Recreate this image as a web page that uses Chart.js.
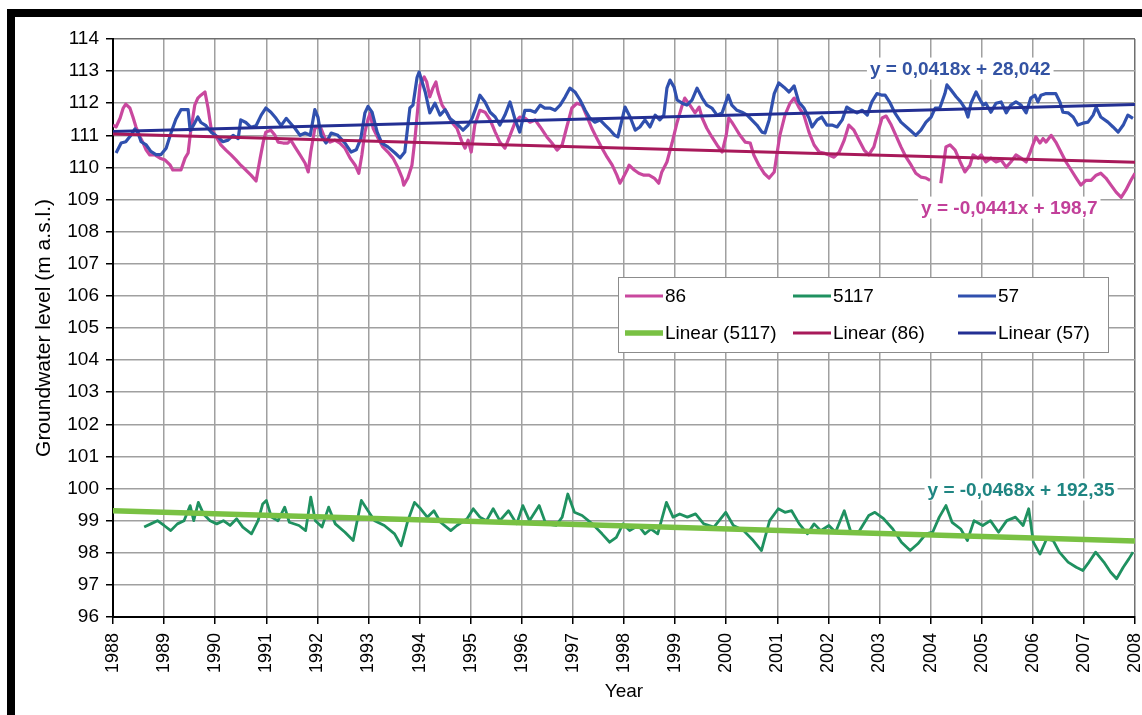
<!DOCTYPE html>
<html>
<head>
<meta charset="utf-8">
<title>Groundwater level</title>
<script src="https://cdn.jsdelivr.net/npm/chart.js@4.4.1/dist/chart.umd.min.js"></script>
<style>
  html, body { margin: 0; padding: 0; background: #fff; }
  #wrap { position: relative; width: 1142px; height: 715px; overflow: hidden; }
  #wrap canvas { position: absolute; left: 0; top: 0; }
  #frame { position: absolute; left: 7px; top: 9px; right: -20px; bottom: -20px;
           border-top: 8px solid #000; border-left: 8px solid #000; pointer-events: none; }
</style>
</head>
<body>
<div id="wrap">
  <canvas id="chart" width="1142" height="715"></canvas>
  <div id="frame"></div>
</div>
<script>
// --- DATA (decimal year, m a.s.l.) ---
const series57 = [
  [1988.06,110.45],[1988.16,110.76],[1988.25,110.8],[1988.35,111.0],[1988.43,111.2],[1988.49,111.07],[1988.55,110.8],[1988.65,110.7],[1988.74,110.5],[1988.84,110.4],[1988.94,110.4],
  [1989.04,110.6],[1989.14,111.1],[1989.23,111.5],[1989.33,111.8],[1989.47,111.8],[1989.51,111.15],[1989.57,111.3],[1989.66,111.57],[1989.72,111.4],[1989.82,111.3],[1989.92,111.1],
  [1990.05,110.95],[1990.15,110.8],[1990.25,110.85],[1990.35,111.0],[1990.45,110.9],[1990.50,111.48],[1990.60,111.4],[1990.70,111.25],[1990.80,111.3],[1990.90,111.63],[1990.99,111.85],
  [1991.09,111.72],[1991.19,111.53],[1991.29,111.3],[1991.39,111.53],[1991.46,111.4],[1991.56,111.22],[1991.66,111.0],[1991.76,111.07],[1991.86,111.0],[1991.95,111.8],
  [1992.01,111.57],[1992.07,111.0],[1992.17,110.76],[1992.27,111.07],[1992.40,111.0],[1992.54,110.76],[1992.66,110.48],[1992.76,110.55],[1992.85,110.9],[1992.93,111.7],[1992.99,111.9],
  [1993.07,111.72],[1993.17,111.1],[1993.26,110.76],[1993.38,110.64],[1993.52,110.45],[1993.62,110.3],[1993.71,110.48],[1993.81,111.85],[1993.87,111.94],[1993.95,112.8],[1993.99,112.97],
  [1994.05,112.66],[1994.11,112.35],[1994.20,111.7],[1994.30,112.0],[1994.40,111.63],[1994.50,111.8],[1994.59,111.53],[1994.69,111.41],[1994.79,111.26],[1994.85,111.16],[1994.95,111.32],
  [1995.03,111.54],[1995.12,111.94],[1995.18,112.25],[1995.28,112.04],[1995.38,111.72],[1995.48,111.57],[1995.57,111.32],[1995.67,111.63],[1995.77,112.04],[1995.87,111.48],[1995.96,111.1],
  [1996.06,111.78],[1996.16,111.78],[1996.26,111.72],[1996.36,111.94],[1996.45,111.85],[1996.55,111.85],[1996.65,111.78],[1996.75,111.94],[1996.85,112.2],[1996.94,112.47],
  [1997.04,112.35],[1997.14,112.1],[1997.24,111.78],[1997.33,111.54],[1997.43,111.41],[1997.53,111.48],[1997.63,111.32],[1997.73,111.16],[1997.82,111.0],[1997.88,110.95],[1997.96,111.48],
  [1998.02,111.88],[1998.12,111.57],[1998.22,111.16],[1998.31,111.26],[1998.41,111.48],[1998.51,111.26],[1998.61,111.63],[1998.70,111.48],[1998.78,111.63],[1998.84,112.47],[1998.90,112.72],[1998.98,112.5],
  [1999.04,112.1],[1999.14,112.0],[1999.23,111.94],[1999.33,112.1],[1999.43,112.47],[1999.53,112.16],[1999.62,111.94],[1999.72,111.85],[1999.82,111.63],[1999.92,111.7],
  [2000.04,112.25],[2000.11,111.94],[2000.21,111.78],[2000.31,111.72],[2000.41,111.63],[2000.50,111.48],[2000.60,111.32],[2000.70,111.1],[2000.76,111.07],[2000.84,111.48],[2000.94,112.3],
  [2001.03,112.63],[2001.13,112.5],[2001.23,112.35],[2001.33,112.54],[2001.42,112.04],[2001.52,111.85],[2001.62,111.54],[2001.68,111.26],[2001.78,111.48],[2001.87,111.57],[2001.97,111.32],
  [2002.07,111.32],[2002.17,111.26],[2002.27,111.48],[2002.36,111.88],[2002.46,111.78],[2002.56,111.7],[2002.66,111.78],[2002.76,111.63],[2002.85,112.04],[2002.95,112.3],
  [2003.05,112.25],[2003.11,112.25],[2003.21,112.0],[2003.30,111.7],[2003.42,111.41],[2003.60,111.16],[2003.71,111.0],[2003.81,111.16],[2003.91,111.41],
  [2004.01,111.57],[2004.09,111.85],[2004.18,111.85],[2004.28,112.3],[2004.32,112.57],[2004.40,112.41],[2004.50,112.2],[2004.59,112.04],[2004.67,111.85],[2004.73,111.57],[2004.79,112.0],[2004.89,112.35],[2004.97,112.1],
  [2005.03,111.94],[2005.08,112.0],[2005.18,111.72],[2005.28,112.0],[2005.38,112.04],[2005.48,111.7],[2005.57,111.94],[2005.67,112.04],[2005.77,111.94],[2005.87,111.7],[2005.96,112.16],
  [2006.04,112.25],[2006.10,112.04],[2006.16,112.25],[2006.26,112.3],[2006.36,112.3],[2006.45,112.3],[2006.53,112.04],[2006.59,111.72],[2006.69,111.7],[2006.79,111.57],[2006.88,111.32],[2006.98,111.38],
  [2007.08,111.41],[2007.18,111.63],[2007.24,111.88],[2007.33,111.57],[2007.47,111.41],[2007.57,111.26],[2007.67,111.1],[2007.77,111.32],[2007.86,111.63],[2007.96,111.53]
];

// null marks the gap in the record early in 2004
const series86 = [
  [1988.00,111.32],[1988.06,111.26],[1988.14,111.54],[1988.20,111.85],[1988.25,111.97],[1988.33,111.85],[1988.39,111.57],[1988.45,111.26],[1988.53,110.95],[1988.59,110.76],[1988.65,110.54],[1988.72,110.39],[1988.82,110.39],[1988.92,110.29],
  [1989.02,110.23],[1989.12,110.07],[1989.17,109.92],[1989.27,109.92],[1989.33,109.92],[1989.41,110.29],[1989.47,110.45],[1989.51,111.0],[1989.57,111.63],[1989.60,111.94],[1989.66,112.16],[1989.72,112.25],[1989.80,112.35],[1989.86,111.85],[1989.92,111.22],
  [1990.02,110.95],[1990.11,110.7],[1990.21,110.54],[1990.31,110.39],[1990.41,110.23],[1990.50,110.07],[1990.60,109.92],[1990.70,109.76],[1990.80,109.58],[1990.88,110.29],[1990.94,110.79],[1990.99,111.1],
  [1991.09,111.16],[1991.17,111.0],[1991.23,110.79],[1991.33,110.76],[1991.42,110.76],[1991.48,110.85],[1991.56,110.64],[1991.66,110.39],[1991.76,110.13],[1991.82,109.86],[1991.87,110.48],[1991.95,111.22],
  [1992.01,111.26],[1992.07,111.22],[1992.15,110.9],[1992.25,110.79],[1992.34,110.85],[1992.44,110.76],[1992.54,110.6],[1992.64,110.29],[1992.74,110.07],[1992.81,109.82],[1992.87,110.39],[1992.93,111.1],[1992.99,111.5],
  [1993.03,111.68],[1993.09,111.22],[1993.19,110.9],[1993.28,110.64],[1993.38,110.48],[1993.48,110.29],[1993.58,109.98],[1993.66,109.67],[1993.69,109.45],[1993.77,109.67],[1993.85,110.07],[1993.91,110.9],[1993.97,111.94],
  [1994.01,112.57],[1994.09,112.82],[1994.14,112.66],[1994.20,112.2],[1994.26,112.47],[1994.32,112.66],[1994.36,112.35],[1994.44,111.94],[1994.54,111.7],[1994.63,111.41],[1994.73,111.22],[1994.83,110.79],[1994.89,110.6],[1994.95,110.85],
  [1995.01,110.48],[1995.08,111.32],[1995.18,111.78],[1995.28,111.72],[1995.38,111.48],[1995.48,111.1],[1995.57,110.79],[1995.67,110.6],[1995.77,111.0],[1995.87,111.41],[1995.96,111.57],
  [1996.06,111.54],[1996.16,111.41],[1996.26,111.48],[1996.36,111.26],[1996.49,110.95],[1996.59,110.76],[1996.69,110.54],[1996.79,110.7],[1996.88,111.26],[1996.98,111.85],
  [1997.08,112.0],[1997.18,111.94],[1997.28,111.57],[1997.37,111.22],[1997.47,110.9],[1997.57,110.6],[1997.67,110.32],[1997.77,110.07],[1997.86,109.76],[1997.92,109.51],[1997.98,109.67],
  [1998.06,109.92],[1998.10,110.07],[1998.20,109.92],[1998.29,109.82],[1998.39,109.76],[1998.49,109.76],[1998.59,109.67],[1998.68,109.51],[1998.74,109.86],[1998.84,110.17],[1998.94,110.76],
  [1999.04,111.41],[1999.14,111.94],[1999.19,112.16],[1999.29,111.94],[1999.39,111.7],[1999.47,111.88],[1999.53,111.54],[1999.62,111.22],[1999.72,110.95],[1999.82,110.7],[1999.92,110.48],
  [2000.00,111.0],[2000.05,111.54],[2000.11,111.41],[2000.17,111.26],[2000.27,111.0],[2000.37,110.79],[2000.47,110.76],[2000.54,110.39],[2000.64,110.07],[2000.74,109.82],[2000.84,109.67],[2000.94,109.86],[2000.99,110.39],
  [2001.05,111.0],[2001.15,111.63],[2001.25,112.0],[2001.33,112.16],[2001.42,111.88],[2001.52,111.63],[2001.62,111.1],[2001.72,110.7],[2001.82,110.48],[2001.91,110.45],
  [2002.01,110.39],[2002.11,110.32],[2002.21,110.48],[2002.31,110.85],[2002.40,111.32],[2002.50,111.16],[2002.60,110.85],[2002.70,110.54],[2002.79,110.39],[2002.89,110.64],[2002.95,111.0],
  [2003.05,111.54],[2003.13,111.6],[2003.23,111.32],[2003.32,111.0],[2003.42,110.64],[2003.52,110.32],[2003.62,110.07],[2003.71,109.82],[2003.81,109.7],[2003.91,109.67],[2003.99,109.6],
  [2004.10,null],
  [2004.20,109.51],[2004.26,110.17],[2004.30,110.64],[2004.38,110.7],[2004.48,110.54],[2004.58,110.17],[2004.67,109.86],[2004.77,110.07],[2004.83,110.39],[2004.93,110.29],[2004.99,110.39],
  [2005.08,110.17],[2005.18,110.29],[2005.28,110.17],[2005.38,110.23],[2005.48,110.01],[2005.57,110.17],[2005.67,110.39],[2005.77,110.29],[2005.87,110.17],[2005.95,110.48],
  [2006.00,110.7],[2006.06,110.95],[2006.14,110.76],[2006.20,110.9],[2006.26,110.79],[2006.36,111.0],[2006.45,110.79],[2006.55,110.48],[2006.65,110.17],[2006.75,109.92],[2006.85,109.67],[2006.94,109.45],
  [2007.04,109.6],[2007.14,109.6],[2007.24,109.76],[2007.33,109.82],[2007.43,109.67],[2007.53,109.45],[2007.63,109.23],[2007.73,109.07],[2007.82,109.29],[2007.92,109.6],[2008.00,109.82]
];

const series5117 = [
  [1988.61,98.80],[1988.74,98.90],[1988.87,99.0],[1989.00,98.85],[1989.13,98.69],[1989.26,98.90],[1989.39,99.0],[1989.51,99.47],[1989.58,99.0],[1989.67,99.57],[1989.77,99.21],[1989.90,99.0],
  [1990.03,98.90],[1990.16,99.0],[1990.29,98.85],[1990.42,99.06],[1990.54,98.80],[1990.71,98.59],[1990.84,99.0],[1990.93,99.52],[1991.00,99.63],[1991.10,99.11],[1991.23,99.0],[1991.36,99.42],[1991.45,98.95],[1991.64,98.85],[1991.77,98.69],[1991.87,99.73],[1991.96,99.0],
  [1992.09,98.80],[1992.22,99.42],[1992.35,98.90],[1992.54,98.64],[1992.70,98.38],[1992.86,99.63],[1992.99,99.31],[1993.12,99.0],[1993.31,98.85],[1993.51,98.59],[1993.64,98.22],[1993.77,99.0],[1993.90,99.57],
  [1994.02,99.37],[1994.15,99.11],[1994.28,99.31],[1994.41,98.95],[1994.61,98.69],[1994.73,98.85],[1994.93,99.06],[1995.05,99.37],[1995.18,99.11],[1995.31,99.0],[1995.44,99.37],[1995.57,99.0],[1995.74,99.31],[1995.90,98.90],
  [1996.02,99.47],[1996.15,99.0],[1996.34,99.47],[1996.47,98.90],[1996.67,98.85],[1996.79,99.11],[1996.90,99.83],[1997.03,99.26],[1997.18,99.16],[1997.38,98.90],[1997.57,98.59],[1997.72,98.33],[1997.85,98.48],[1997.98,98.90],
  [1998.11,98.69],[1998.28,98.85],[1998.41,98.59],[1998.53,98.74],[1998.66,98.59],[1998.83,99.57],[1998.96,99.11],[1999.09,99.21],[1999.24,99.11],[1999.40,99.21],[1999.56,98.90],[1999.76,98.80],[1999.99,99.26],
  [2000.14,98.85],[2000.34,98.69],[2000.53,98.38],[2000.69,98.07],[2000.85,99.0],[2001.02,99.37],[2001.15,99.26],[2001.28,99.31],[2001.43,98.90],[2001.59,98.59],[2001.72,98.90],[2001.85,98.69],
  [2002.01,98.85],[2002.14,98.64],[2002.31,99.31],[2002.44,98.64],[2002.59,98.64],[2002.79,99.16],[2002.91,99.26],[2003.08,99.06],[2003.26,98.74],[2003.43,98.33],[2003.60,98.07],[2003.75,98.28],[2003.91,98.59],
  [2004.04,98.64],[2004.17,99.11],[2004.30,99.47],[2004.42,98.95],[2004.59,98.74],[2004.72,98.38],[2004.85,99.0],[2005.02,98.85],[2005.17,99.0],[2005.33,98.64],[2005.49,99.0],[2005.66,99.11],[2005.81,98.85],[2005.92,99.37],
  [2006.01,98.33],[2006.14,97.96],[2006.27,98.43],[2006.40,98.38],[2006.52,98.02],[2006.69,97.71],[2006.85,97.55],[2006.98,97.45],[2007.10,97.71],[2007.23,98.02],[2007.39,97.71],[2007.52,97.40],[2007.64,97.19],[2007.77,97.55],[2007.88,97.81],[2007.96,98.02]
];

// trend lines at the axis ends, from the fitted equations printed on the figure
const trendYears = [1988, 2008];
const trend57 = [111.12, 111.96];
const trend86 = [111.04, 110.16];
const trend5117 = [99.31, 98.37];

const yearTicks = { min: 1988, max: 2008 };
const levelTicks = { min: 96, max: 114 };

// --- COLOURS ---
const colors = {
  pink: '#c9489e',
  green: '#1f9160',
  blue: '#3050ae',
  trendGreen: '#79c143',
  trendPink: '#a8195a',
  trendBlue: '#232f93',
  eqBlue: '#3353a3',
  eqPink: '#c2409a',
  eqTeal: '#1f8582',
  grid: '#a0a0a0'
};
const fontFamily = '"Liberation Sans", Arial, sans-serif';

const toPoints = list => list.map(p => ({ x: p[0], y: p[1] }));
const trendPoints = vals => trendYears.map((yr, i) => ({ x: yr, y: vals[i] }));

// datasets listed in the legend's reading order; "order" sets what sits on top
const datasets = [
  { label: '86', data: toPoints(series86), borderColor: colors.pink, borderWidth: 3.2, order: 3 },
  { label: '5117', data: toPoints(series5117), borderColor: colors.green, borderWidth: 2.8, order: 3 },
  { label: '57', data: toPoints(series57), borderColor: colors.blue, borderWidth: 3.2, order: 2 },
  { label: 'Linear (5117)', data: trendPoints(trend5117), borderColor: colors.trendGreen, borderWidth: 5.5, order: 1 },
  { label: 'Linear (86)', data: trendPoints(trend86), borderColor: colors.trendPink, borderWidth: 3, order: 0 },
  { label: 'Linear (57)', data: trendPoints(trend57), borderColor: colors.trendBlue, borderWidth: 3, order: 0 }
];
datasets.forEach(ds => {
  ds.pointRadius = 0;
  ds.tension = 0;
  ds.fill = false;
  ds.spanGaps = false;
  ds.borderJoinStyle = 'round';
});

// --- EQUATION LABELS (placed in data coordinates) ---
const equations = [
  { text: 'y = 0,0418x + 28,042', color: colors.eqBlue, year: 2004.58, level: 113.08 },
  { text: 'y = -0,0441x + 198,7', color: colors.eqPink, year: 2005.54, level: 108.75 },
  { text: 'y = -0,0468x + 192,35', color: colors.eqTeal, year: 2005.77, level: 99.97 }
];

const equationPlugin = {
  id: 'equations',
  afterDraw(chart) {
    const { ctx, scales } = chart;
    ctx.save();
    ctx.font = 'bold 19px ' + fontFamily;
    ctx.textAlign = 'center';
    ctx.textBaseline = 'middle';
    equations.forEach(eq => {
      const x = scales.x.getPixelForValue(eq.year);
      const y = scales.y.getPixelForValue(eq.level);
      const w = ctx.measureText(eq.text).width;
      ctx.fillStyle = '#fff';
      ctx.fillRect(x - w / 2 - 3, y - 11, w + 6, 22);
      ctx.fillStyle = eq.color;
      ctx.fillText(eq.text, x, y + 1);
    });
    ctx.restore();
  }
};

// --- LEGEND: 3 columns x 2 rows inside a boxed area ---
const legendBox = { left: 618, top: 277, right: 1108, bottom: 352 };
const legendCols = [625, 793, 958];
const legendRows = [296, 333];

const legendPlugin = {
  id: 'gridLegend',
  afterDraw(chart) {
    const { ctx } = chart;
    ctx.save();
    ctx.fillStyle = '#fff';
    ctx.fillRect(legendBox.left, legendBox.top, legendBox.right - legendBox.left, legendBox.bottom - legendBox.top);
    ctx.strokeStyle = '#8c8c8c';
    ctx.lineWidth = 1;
    ctx.strokeRect(legendBox.left + 0.5, legendBox.top + 0.5, legendBox.right - legendBox.left, legendBox.bottom - legendBox.top);
    ctx.font = '19px ' + fontFamily;
    ctx.textBaseline = 'middle';
    ctx.textAlign = 'left';
    chart.data.datasets.forEach((ds, i) => {
      const x = legendCols[i % 3];
      const y = legendRows[Math.floor(i / 3)];
      ctx.strokeStyle = ds.borderColor;
      ctx.lineWidth = ds.borderWidth;
      ctx.beginPath();
      ctx.moveTo(x, y);
      ctx.lineTo(x + 38, y);
      ctx.stroke();
      ctx.fillStyle = '#000';
      ctx.fillText(ds.label, x + 40, y + 1);
    });
    ctx.restore();
  }
};

const gridColor = edgeValue => c => (c.tick && c.tick.value === edgeValue) ? '#6f6f6f' : colors.grid;

const chart = new Chart(document.getElementById('chart'), {
  type: 'line',
  data: { datasets },
  options: {
    responsive: false,
    animation: false,
    devicePixelRatio: 1,
    layout: { padding: { top: 39, right: 7, left: 0, bottom: 0 } },
    plugins: { legend: { display: false }, tooltip: { enabled: false } },
    scales: {
      x: {
        type: 'linear',
        min: yearTicks.min,
        max: yearTicks.max,
        ticks: {
          stepSize: 1,
          autoSkip: false,
          maxRotation: 90,
          minRotation: 90,
          padding: 9,
          color: '#000',
          font: { family: fontFamily, size: 18 },
          callback: v => String(v)
        },
        grid: { color: gridColor(yearTicks.max), lineWidth: 1.5, tickLength: 7, tickColor: '#000', tickWidth: 1.5 },
        border: { color: '#000', width: 2 },
        title: { display: true, text: 'Year', color: '#000', font: { family: fontFamily, size: 19 }, padding: { top: 0, bottom: 12 } },
        afterFit: s => { s.height = 98; s.paddingLeft = 0; s.paddingRight = 0; }
      },
      y: {
        type: 'linear',
        min: levelTicks.min,
        max: levelTicks.max,
        ticks: {
          stepSize: 1,
          padding: 7,
          color: '#000',
          font: { family: fontFamily, size: 19 }
        },
        grid: { color: gridColor(levelTicks.max), lineWidth: 1.5, tickLength: 7, tickColor: '#000', tickWidth: 1.5 },
        border: { color: '#000', width: 2 },
        title: { display: true, text: 'Groundwater level (m a.s.l.)', color: '#000', font: { family: fontFamily, size: 21 }, padding: { top: 32, bottom: 0 } },
        afterFit: s => { s.width = 113; s.paddingTop = 0; s.paddingBottom = 0; }
      }
    }
  },
  plugins: [equationPlugin, legendPlugin]
});
</script>
</body>
</html>
